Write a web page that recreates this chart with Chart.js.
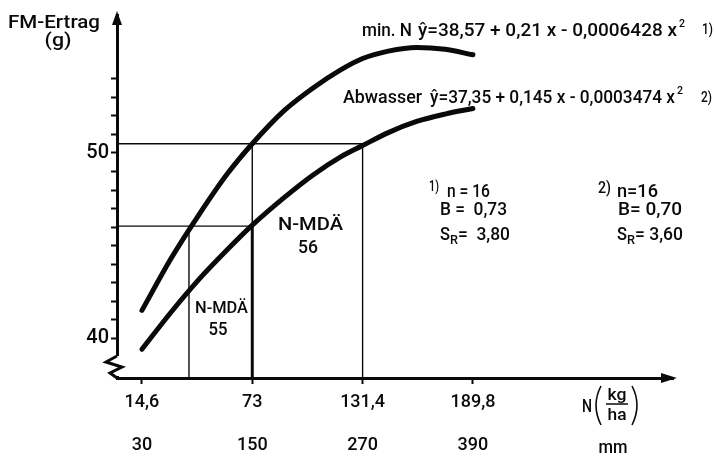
<!DOCTYPE html>
<html>
<head>
<meta charset="utf-8">
<script src="https://cdn.jsdelivr.net/npm/chart.js@4.4.1/dist/chart.umd.min.js"></script>
<style>
  html, body { margin: 0; padding: 0; background: #fff; }
  canvas { display: block; }
</style>
</head>
<body>
<canvas id="chart" width="716" height="456"></canvas>
<script>
// N-Gabe (kg/ha) und FM-Ertrag (g)
const nValues  = [14.6, 30, 45, 60, 73, 90, 105, 120, 131.4, 145, 160, 175, 189.8];
const minN     = [41.5, 44.3, 46.7, 48.9, 50.5, 52.3, 53.5, 54.5, 55.1, 55.5, 55.7, 55.6, 55.3];
const abwasser = [39.4, 41.4, 43.2, 44.8, 46.1, 47.6, 48.8, 49.8, 50.4, 51.1, 51.7, 52.1, 52.4];

const xTicks = [14.6, 73, 131.4, 189.8];
const xLabelsKg = ['14,6', '73', '131,4', '189,8'];
const xLabelsMm = ['30', '150', '270', '390'];
const yTicks = [40, 41, 42, 43, 44, 45, 46, 47, 48, 49, 50, 51, 52, 53, 54];
const yLabeled = [40, 50];

// Hilfslinien fuer die N-MDAe
const mdaHigh = 50.5;
const mdaLow = 46.05;
const mdaX = [39.5, 73, 131.4];

const xMin = 1.4, xMax = 295.7;
const yMin = 37.85, yMax = 57.45;

const ink = '#0a0a0a';
const FONT = 'Roboto';
const WEIGHT = '500';

function guide(x1, y1, x2, y2, width) {
  return {
    data: [{ x: x1, y: y1 }, { x: x2, y: y2 }],
    showLine: true,
    borderColor: ink,
    borderWidth: width || 1.4,
    pointRadius: 0,
    order: 2
  };
}

function curve(values) {
  return {
    data: nValues.map((x, i) => ({ x: x, y: values[i] })),
    showLine: true,
    borderColor: ink,
    borderWidth: 5,
    borderCapStyle: 'round',
    cubicInterpolationMode: 'monotone',
    pointRadius: 0,
    order: 1
  };
}

function fitText(ctx, s, x, y, size, width, align) {
  ctx.save();
  ctx.font = WEIGHT + ' ' + size + 'px ' + FONT;
  const w = ctx.measureText(s).width;
  ctx.translate(x, y);
  ctx.scale(width / w, 1);
  ctx.textAlign = 'left';
  ctx.textBaseline = 'alphabetic';
  ctx.fillText(s, align === 'center' ? -w / 2 : 0, 0);
  ctx.restore();
}

const decorations = {
  id: 'decorations',
  afterDraw(chart) {
    const ctx = chart.ctx;
    const a = chart.chartArea;
    ctx.save();
    ctx.fillStyle = ink;
    ctx.strokeStyle = ink;

    // Pfeilspitzen
    ctx.beginPath();
    ctx.moveTo(a.left, a.top - 4);
    ctx.lineTo(a.left - 5, a.top + 10);
    ctx.lineTo(a.left + 5, a.top + 10);
    ctx.closePath();
    ctx.fill();
    ctx.beginPath();
    ctx.moveTo(a.right + 4, a.bottom);
    ctx.lineTo(a.right - 12, a.bottom - 5);
    ctx.lineTo(a.right - 12, a.bottom + 5);
    ctx.closePath();
    ctx.fill();

    // Achsenbruch
    ctx.fillStyle = '#fff';
    ctx.fillRect(a.left - 3, a.bottom - 22, 6, 20);
    ctx.lineWidth = 3;
    ctx.lineJoin = 'miter';
    ctx.beginPath();
    ctx.moveTo(a.left, a.bottom - 22);
    ctx.lineTo(a.left - 11, a.bottom - 16);
    ctx.lineTo(a.left + 5, a.bottom - 11);
    ctx.lineTo(a.left - 7, a.bottom - 5);
    ctx.lineTo(a.left, a.bottom);
    ctx.stroke();

    ctx.fillStyle = ink;
    // Achsentitel
    fitText(ctx, 'FM-Ertrag', 8, 28, 18, 92);
    fitText(ctx, '(g)', 58, 46, 18, 27, 'center');
    fitText(ctx, 'mm', 613, 453, 18, 29, 'center');
    fitText(ctx, 'N', 582, 412, 18, 10);
    fitText(ctx, 'kg', 617, 400, 16, 19, 'center');
    fitText(ctx, 'ha', 617, 420, 16, 19, 'center');
    ctx.lineWidth = 1.6;
    ctx.beginPath();
    ctx.moveTo(606, 404); ctx.lineTo(628, 404);
    ctx.moveTo(601, 386); ctx.quadraticCurveTo(591, 405, 601, 425);
    ctx.moveTo(632, 386); ctx.quadraticCurveTo(642, 405, 632, 425);
    ctx.stroke();

    // Regressionsgleichungen
    fitText(ctx, 'min. N', 362, 36, 18, 50);
    fitText(ctx, 'ŷ=38,57 + 0,21 x - 0,0006428 x', 418, 36, 18, 259);
    fitText(ctx, '2', 679, 27, 11, 6);
    fitText(ctx, '1)', 702, 34, 15, 11);
    fitText(ctx, 'Abwasser', 343, 103, 18, 79);
    fitText(ctx, 'ŷ=37,35 + 0,145 x - 0,0003474 x', 430, 103, 18, 245);
    fitText(ctx, '2', 677, 94, 11, 6);
    fitText(ctx, '2)', 701, 102, 15, 11);

    // Kennwerte
    fitText(ctx, '1)', 429, 191, 14, 10);
    fitText(ctx, 'n = 16', 447, 197, 18, 43);
    fitText(ctx, 'B =  0,73', 440, 215, 18, 67);
    fitText(ctx, 'S', 440, 240, 18, 10);
    fitText(ctx, 'R', 450, 244, 13, 8);
    fitText(ctx, '=  3,80', 458, 240, 18, 52);
    fitText(ctx, '2)', 598, 193, 16, 13);
    fitText(ctx, 'n=16', 617, 197, 18, 41);
    fitText(ctx, 'B= 0,70', 618, 215, 18, 64);
    fitText(ctx, 'S', 617, 240, 18, 10);
    fitText(ctx, 'R', 627, 244, 13, 8);
    fitText(ctx, '= 3,60', 635, 240, 18, 48);

    // N-MDAe
    fitText(ctx, 'N-MDÄ', 278, 230, 18, 65);
    fitText(ctx, '56', 308, 253, 18, 20, 'center');
    fitText(ctx, 'N-MDÄ', 195, 313, 16, 53);
    fitText(ctx, '55', 218, 335, 18, 19, 'center');
    ctx.restore();
  }
};

new Chart(document.getElementById('chart'), {
  type: 'scatter',
  data: {
    datasets: [
      curve(minN),
      curve(abwasser),
      guide(xMin, mdaHigh, mdaX[2], mdaHigh),
      guide(xMin, mdaLow, mdaX[1], mdaLow),
      guide(mdaX[0], yMin, mdaX[0], mdaLow),
      guide(mdaX[1], mdaLow, mdaX[1], mdaHigh),
      guide(mdaX[1], yMin, mdaX[1], mdaLow, 3),
      guide(mdaX[2], yMin, mdaX[2], mdaHigh)
    ]
  },
  options: {
    responsive: false,
    animation: false,
    devicePixelRatio: 1,
    layout: { padding: { top: 15, right: 43, left: 0, bottom: 0 } },
    plugins: { legend: { display: false }, tooltip: { enabled: false } },
    scales: {
      x: {
        type: 'linear',
        min: xMin,
        max: xMax,
        afterBuildTicks: s => { s.ticks = xTicks.map(v => ({ value: v })); },
        afterFit: s => { s.height = 78; },
        grid: { drawOnChartArea: false, drawTicks: true, tickLength: 6, tickWidth: 2, tickColor: ink },
        border: { display: true, width: 3, color: ink },
        ticks: {
          autoSkip: false,
          maxRotation: 0,
          padding: -3,
          color: ink,
          font: { family: FONT, size: 18, weight: WEIGHT, lineHeight: 2.4 },
          callback: (v, i) => [xLabelsKg[i], xLabelsMm[i]]
        }
      },
      y: {
        type: 'linear',
        min: yMin,
        max: yMax,
        afterBuildTicks: s => { s.ticks = yTicks.map(v => ({ value: v })); },
        afterFit: s => { s.width = 117; },
        grid: { drawOnChartArea: false, drawTicks: true, tickLength: 6, tickWidth: 2, tickColor: ink },
        border: { display: true, width: 3, color: ink },
        ticks: {
          autoSkip: false,
          padding: 2,
          color: ink,
          font: { family: FONT, size: 20, weight: WEIGHT },
          callback: v => yLabeled.includes(v) ? String(v) : ''
        }
      }
    }
  },
  plugins: [decorations]
});
</script>
</body>
</html>
